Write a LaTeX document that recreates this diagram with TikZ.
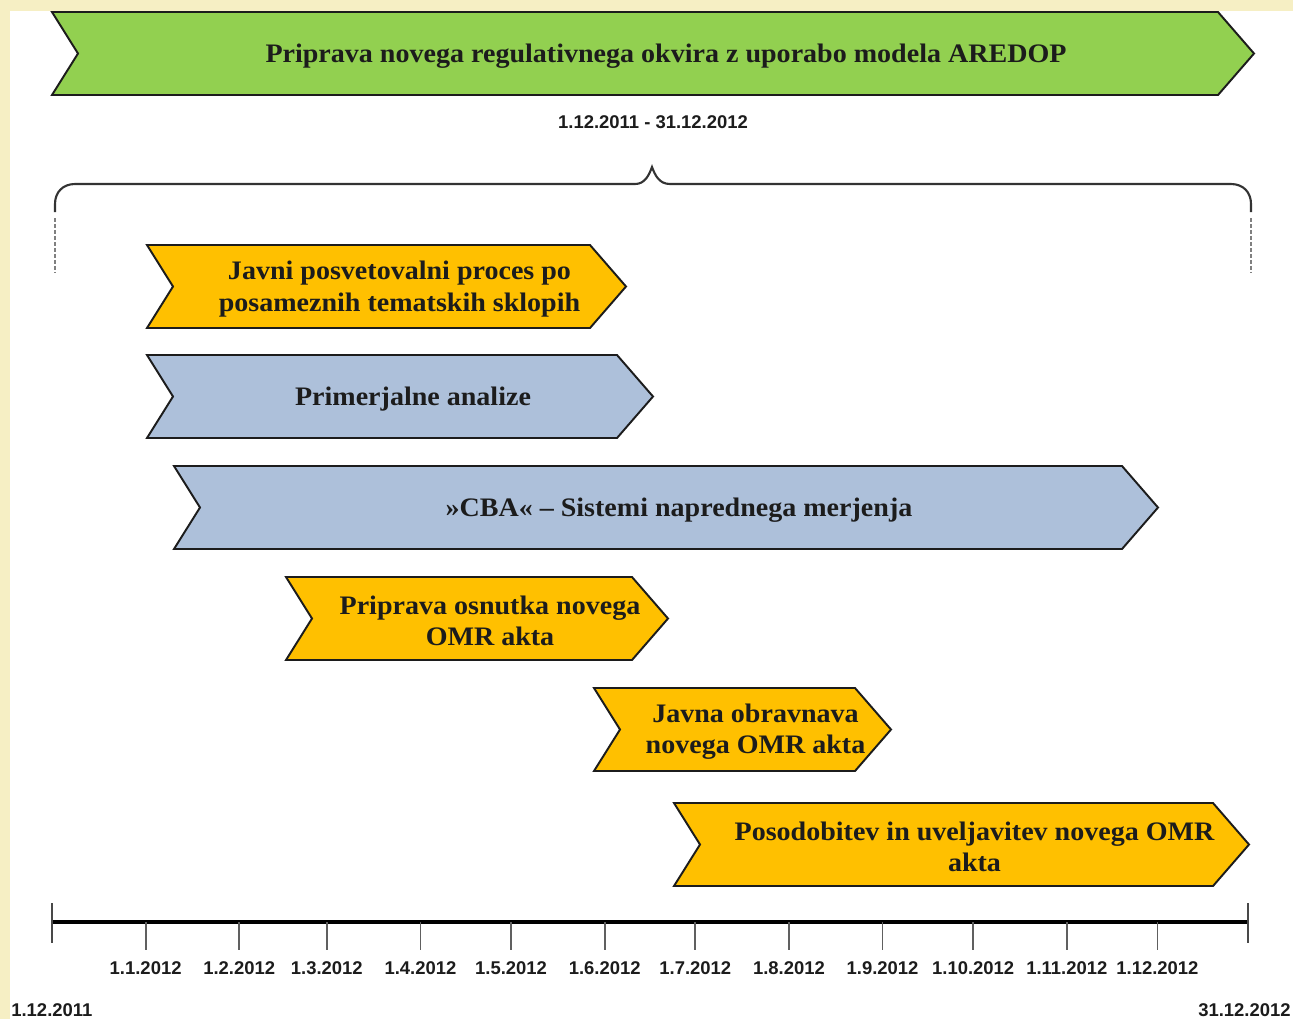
\documentclass[tikz,border=0pt]{standalone}
\usepackage{fontspec}
\setmainfont{Liberation Serif}
\newfontfamily\boxfont[FakeStretch=1.05]{Liberation Serif}
\newfontfamily\datefont{Liberation Sans}
\usepackage{xcolor}
\usepackage{tikz}

\definecolor{barGreen}{RGB}{146,208,80}
\definecolor{barYellow}{RGB}{255,192,0}
\definecolor{barBlue}{RGB}{173,192,218}
\definecolor{pageCream}{RGB}{246,239,196}
\definecolor{lineDark}{RGB}{28,28,28}

% chevron bar: style, node name, left x, body end x, top y, text
\newcommand{\chevron}[6]{%
  \draw[#1] (#3,#5) -- (#4,#5) -- ++(36,41.5) -- ++(-36,41.5)
    -- (#3,#5+83) -- ++(26,-41.5) -- cycle;
  \node[boxtext] (#2) at ({(#3+26+#4+36)/2},#5+41.5) {#6};
}

\begin{document}
\begin{tikzpicture}[
    x=0.02cm, y=-0.02cm,
    % Bar styles
    gbar/.style={fill=barGreen, draw=lineDark, line width=1.1pt},
    ybar/.style={fill=barYellow, draw=lineDark, line width=1.1pt},
    bbar/.style={fill=barBlue, draw=lineDark, line width=1.1pt},
    % Text styles
    boxtext/.style={font=\boxfont\bfseries\fontsize{15.2}{18}\selectfont,
      align=center, text=lineDark, inner sep=0pt, yshift=-1.3pt},
    datelabel/.style={font=\datefont\bfseries\fontsize{10.5}{12}\selectfont,
      text=lineDark, inner sep=0pt},
    % Line styles
    braceline/.style={draw=lineDark!90, line width=1.2pt},
    guideline/.style={draw=gray, line width=0.8pt, dash pattern=on 2.3pt off 1.1pt},
    axisline/.style={draw=black, line width=2.3pt},
    endtick/.style={draw=lineDark!80, line width=1pt},
    monthtick/.style={draw=lineDark!70, line width=1pt},
  ]

  % ====================================================================
  % PAGE
  % ====================================================================
  \fill[pageCream] (0,0) rectangle (1293,1019);
  \fill[white] (10,11) rectangle (1293,1019);
  \useasboundingbox (0,0) rectangle (1293,1019);

  % ====================================================================
  % TOP — whole project
  % ====================================================================
  \chevron{gbar}{project}{52}{1218}{12}{Priprava novega regulativnega okvira z uporabo modela AREDOP}

  \node[datelabel] (span) at (653,122) {1.12.2011 - 31.12.2012};

  % Brace
  \draw[braceline] (55,212) -- (55,204) .. controls (55,192) and (63,184) .. (75,184)
    -- (635,184) .. controls (645,184) and (649,175) .. (652,167)
    .. controls (655,175) and (659,184) .. (670,184)
    -- (1231,184) .. controls (1243,184) and (1251,192) .. (1251,204) -- (1251,212);
  \draw[guideline] (55,218) -- (55,273);
  \draw[guideline] (1251,218) -- (1251,273);

  % ====================================================================
  % ACTIVITIES
  % ====================================================================
  \chevron{ybar}{consult}{147}{590}{245}{Javni posvetovalni proces po\\posameznih tematskih sklopih}
  \chevron{bbar}{compare}{147}{617}{355}{Primerjalne analize}
  \chevron{bbar}{cba}{174}{1122}{466}{»CBA« – Sistemi naprednega merjenja}
  \chevron{ybar}{draft}{286}{632}{577}{Priprava osnutka novega\\OMR akta}
  \chevron{ybar}{hearing}{594}{855}{688}{Javna obravnava\\novega OMR akta}
  \chevron{ybar}{update}{674}{1213}{803}{Posodobitev in uveljavitev novega OMR\\akta}

  % ====================================================================
  % TIMELINE
  % ====================================================================
  \coordinate (tstart) at (52,922);
  \coordinate (tend) at (1248,922);
  \draw[axisline] (tstart) -- (tend);
  \draw[endtick] (tstart) ++(0,-19) -- ++(0,40);
  \draw[endtick] (tend) ++(0,-19) -- ++(0,40);

  % months (days counted from 1.12.2011, 3.0202 px per day)
  \foreach \dn/\lab in {31/1.1.2012, 62/1.2.2012, 91/1.3.2012, 122/1.4.2012,
      152/1.5.2012, 183/1.6.2012, 213/1.7.2012, 244/1.8.2012, 275/1.9.2012,
      305/1.10.2012, 336/1.11.2012, 366/1.12.2012} {
    \draw[monthtick] ({52+3.0202*\dn},922) -- ++(0,28);
    \node[datelabel] (m\dn) at ({52+3.0202*\dn},968) {\lab};
  }

  \node[datelabel, anchor=west] (startdate) at (11,1010) {1.12.2011};
  \node[datelabel, anchor=east] (enddate) at (1291,1010) {31.12.2012};

\end{tikzpicture}
\end{document}
